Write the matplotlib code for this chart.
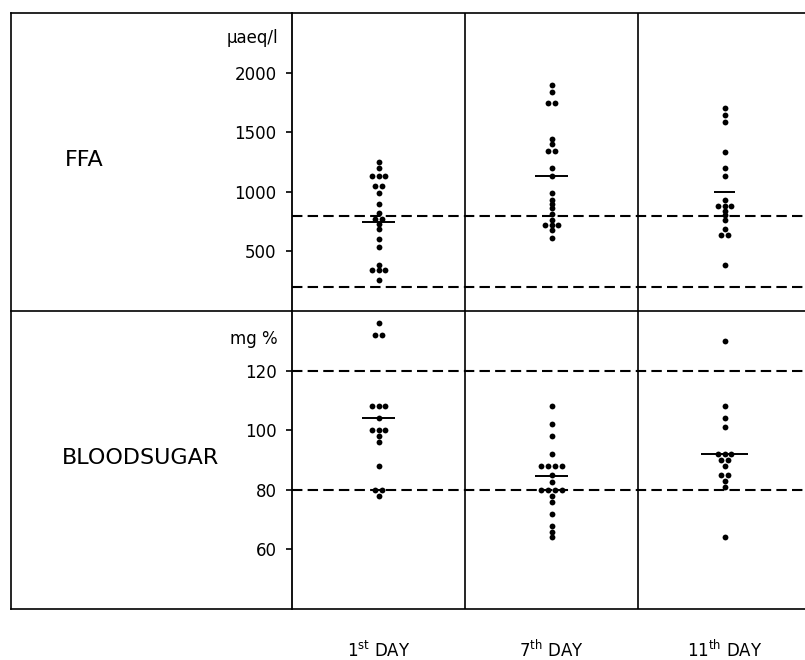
import numpy as np
import matplotlib
matplotlib.use("Agg")
import matplotlib.pyplot as plt
from matplotlib.lines import Line2D
from matplotlib.transforms import blended_transform_factory

# ---------------- data ----------------
day_labels = ["1$^{\\mathrm{st}}$ DAY", "7$^{\\mathrm{th}}$ DAY", "11$^{\\mathrm{th}}$ DAY"]

ffa_day1 = [1250, 1200, 1130, 1130, 1130, 1050, 1050, 990, 895, 820, 775, 775,
            730, 685, 600, 540, 385, 340, 340, 340, 260]
ffa_day7 = [1900, 1835, 1745, 1745, 1445, 1400, 1340, 1340, 1200, 1130, 990, 935,
            895, 860, 815, 760, 720, 720, 720, 680, 615]
ffa_day11 = [1700, 1645, 1585, 1330, 1200, 1130, 935, 885, 885, 885, 840, 805,
             760, 685, 635, 635, 385]
ffa_means = [745, 1130, 1000]

bs_day1 = [136, 132, 132, 108, 108, 108, 104, 100, 100, 100, 98, 96, 88, 80, 80, 78]
bs_day7 = [108, 102, 98, 92, 88, 88, 88, 88, 85, 82.5, 80, 80, 80, 80, 78, 76,
           72, 68, 66, 64]
bs_day11 = [130, 108, 104, 101, 92, 92, 92, 90, 90, 88, 85, 85, 83, 81, 64]
bs_means = [104, 84.5, 92]

ffa_ref_lines = [200, 800]
bs_ref_lines = [80, 120]
ffa_ticks = [500, 1000, 1500, 2000]
bs_ticks = [60, 80, 100, 120]
ffa_range = [0, 2500]
bs_range = [40, 140]

# ---------------- layout ----------------
plt.rcParams['font.family'] = ['DejaVu Sans']
W, H = 805, 660
fig = plt.figure(figsize=(W / 100, H / 100), dpi=100)


def px_rect(x0, y0, x1, y1):
    return [x0 / W, 1 - y1 / H, (x1 - x0) / W, (y1 - y0) / H]


col_px = 173.0
ax_left_px = 292
ax_top = fig.add_axes(px_rect(ax_left_px, 13, W, 311))
ax_bot = fig.add_axes(px_rect(ax_left_px, 311, W, 609))
xmax = (W - ax_left_px) / col_px
centers = [0.5, 1.5, 2.5]
mean_halfwidths = {"ffa": [0.095, 0.093, 0.058], "bs": [0.093, 0.098, 0.133]}


def swarm(values, center, step=0.039):
    vals = np.asarray(values, float)
    xs = np.empty_like(vals)
    for v in np.unique(vals):
        idx = np.where(vals == v)[0]
        n = len(idx)
        xs[idx] = center + (np.arange(n) - (n - 1) / 2) * step
    return xs


def setup(ax, ylim, ticks, refs):
    ax.set_xlim(0, xmax)
    ax.set_ylim(*ylim)
    for s in ["top", "right", "bottom"]:
        ax.spines[s].set_visible(False)
    ax.spines["left"].set_linewidth(1.3)
    ax.set_xticks([])
    ax.set_yticks(ticks)
    ax.tick_params(axis="y", direction="out", length=4, width=1.2,
                   labelsize=12, pad=7)
    ax.axvline(1.0, color="black", lw=1.2)
    ax.axvline(2.0, color="black", lw=1.2)
    for r in refs:
        ax.axhline(r, color="black", lw=1.5, dashes=(5, 2.5))


setup(ax_top, ffa_range, ffa_ticks, ffa_ref_lines)
setup(ax_bot, bs_range, bs_ticks, bs_ref_lines)

for c, vals in zip(centers, [ffa_day1, ffa_day7, ffa_day11]):
    ax_top.plot(swarm(vals, c), vals, "o", ms=4.2, color="black", mec="none")
for c, vals in zip(centers, [bs_day1, bs_day7, bs_day11]):
    ax_bot.plot(swarm(vals, c), vals, "o", ms=4.2, color="black", mec="none")

for c, m, hw in zip(centers, ffa_means, mean_halfwidths["ffa"]):
    ax_top.hlines(m, c - hw, c + hw, color="black", lw=1.4)
for c, m, hw in zip(centers, bs_means, mean_halfwidths["bs"]):
    ax_bot.hlines(m, c - hw, c + hw, color="black", lw=1.4)

# outer frame lines
for y in [13, 311, 609]:
    fig.add_artist(Line2D([11 / W, 1], [1 - y / H, 1 - y / H], color="black", lw=1.2))
fig.add_artist(Line2D([11 / W, 11 / W], [1 - 13 / H, 1 - 609 / H], color="black", lw=1.2))

# texts
fig.text(65 / W, 1 - 160.5 / H, "FFA", fontsize=16, ha="left", va="center")
fig.text(62 / W, 1 - 457.5 / H, "BLOODSUGAR", fontsize=16, ha="left", va="center")
fig.text(278 / W, 1 - 38 / H, "\u03bcaeq/l", fontsize=12, ha="right", va="center")
fig.text(278 / W, 1 - 339 / H, "mg %", fontsize=12, ha="right", va="center")

tr = blended_transform_factory(ax_bot.transData, fig.transFigure)
for c, lab in zip(centers, day_labels):
    ax_bot.text(c, 1 - 657 / H, lab, transform=tr, ha="center", va="baseline",
                fontsize=12)

fig.savefig("out.png", dpi=100)
